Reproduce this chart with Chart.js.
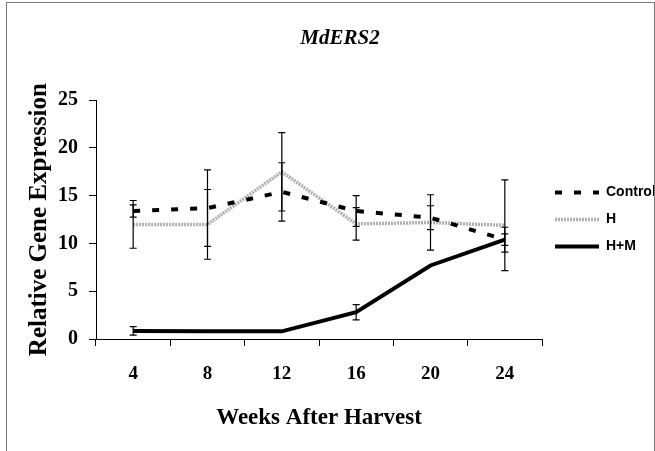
<!DOCTYPE html>
<html>
<head>
<meta charset="utf-8">
<script src="https://cdn.jsdelivr.net/npm/chart.js@4"></script>
<style>
  body { margin: 0; background: #fff; }
  #wrap { position: relative; width: 655px; height: 451px; overflow: hidden; }
  #frame { position: absolute; left: 6px; top: 2px; width: 647px; height: 470px; border: 1px solid #7a7a7a; pointer-events: none; }
</style>
</head>
<body>
<div id="wrap">
  <canvas id="grafico" width="655" height="451"></canvas>
  <div id="frame"></div>
</div>
<script>
// valores
const semanas = ['4', '8', '12', '16', '20', '24'];
const controle = [13.4, 13.7, 15.4, 13.4, 12.7, 10.4];
const controleErro = [0.65, 4.0, 3.05, 1.6, 1.25, 1.3];
const tratH = [12.0, 12.0, 17.5, 12.05, 12.2, 11.9];
const tratHErro = [2.5, 3.65, 4.1, 1.7, 2.9, 4.75];
const tratHM = [0.85, 0.8, 0.8, 2.8, 7.7, 10.4];
const tratHMErro = [0.45, 0, 0, 0.8, 0, 0.6];
const yTicks = [0, 5, 10, 15, 20, 25];

const serif = "'Liberation Serif', 'Times New Roman', serif";

// barras de erro desenhadas com as escalas do proprio grafico
const barrasErro = {
  id: 'barrasErro',
  afterDatasetsDraw(chart) {
    const ctx = chart.ctx;
    const y = chart.scales.y;
    ctx.save();
    ctx.strokeStyle = '#000';
    ctx.lineWidth = 1.2;
    chart.data.datasets.forEach((ds, i) => {
      const meta = chart.getDatasetMeta(i);
      meta.data.forEach((pt, j) => {
        const e = ds.erros[j];
        if (!e) return;
        const topo = y.getPixelForValue(ds.data[j] + e);
        const base = y.getPixelForValue(ds.data[j] - e);
        ctx.beginPath();
        ctx.moveTo(pt.x, topo);
        ctx.lineTo(pt.x, base);
        ctx.moveTo(pt.x - 3.5, topo);
        ctx.lineTo(pt.x + 3.5, topo);
        ctx.moveTo(pt.x - 3.5, base);
        ctx.lineTo(pt.x + 3.5, base);
        ctx.stroke();
      });
    });
    ctx.restore();
  }
};

new Chart(document.getElementById('grafico'), {
  type: 'line',
  data: {
    labels: semanas,
    datasets: [
      { label: 'Control', data: controle, erros: controleErro, borderColor: '#000', borderWidth: 4, borderDash: [7, 12], pointRadius: 0, tension: 0 },
      { label: 'H', data: tratH, erros: tratHErro, borderColor: '#b0b0b0', borderWidth: 3.5, borderDash: [2, 1], pointRadius: 0, tension: 0 },
      { label: 'H+M', data: tratHM, erros: tratHMErro, borderColor: '#000', borderWidth: 4, pointRadius: 0, tension: 0 }
    ]
  },
  options: {
    responsive: false,
    animation: false,
    layout: { padding: { left: 25, right: 0, top: 0, bottom: 19 } },
    plugins: {
      title: {
        display: true,
        text: 'MdERS2',
        color: '#000',
        font: { family: serif, size: 21, weight: 'bold', style: 'italic', lineHeight: 1.2 },
        padding: { top: 26, bottom: 49 }
      },
      legend: {
        position: 'right',
        fullSize: false,
        maxWidth: 113,
        labels: {
          usePointStyle: true,
          pointStyle: 'line',
          pointStyleWidth: 44,
          padding: 13,
          color: '#000',
          font: { family: "'Liberation Sans', Arial, sans-serif", size: 14, weight: 'bold' },
          generateLabels: (chart) => {
            const itens = Chart.defaults.plugins.legend.labels.generateLabels(chart);
            itens.forEach(it => {
              const ds = chart.data.datasets[it.datasetIndex];
              it.lineDash = ds.borderDash || [];
              it.lineWidth = ds.borderWidth;
              it.strokeStyle = ds.borderColor;
            });
            return itens;
          }
        }
      },
      tooltip: { enabled: false }
    },
    scales: {
      x: {
        type: 'category',
        offset: true,
        afterFit: (escala) => { escala.height = 93; },
        grid: { display: true, drawOnChartArea: false, offset: true, tickLength: 7, color: '#000' },
        border: { color: '#000', width: 1 },
        ticks: { color: '#000', padding: 17, font: { family: serif, size: 19, weight: 'bold' } },
        title: {
          display: true,
          text: 'Weeks After Harvest',
          color: '#000',
          font: { family: serif, size: 23, weight: 'bold', lineHeight: 1.2 },
          padding: { top: 2, bottom: 0 }
        }
      },
      y: {
        min: 0,
        max: 25,
        afterFit: (escala) => { escala.width = 71; },
        afterBuildTicks: (escala) => { escala.ticks = yTicks.map(v => ({ value: v })); },
        grid: { display: true, drawOnChartArea: false, tickLength: 7, color: '#000' },
        border: { color: '#000', width: 1 },
        ticks: { color: '#000', padding: 11, font: { family: serif, size: 20, weight: 'bold' } },
        title: {
          display: true,
          text: 'Relative Gene Expression',
          color: '#000',
          font: { family: serif, size: 25, weight: 'bold', lineHeight: 1.2 },
          padding: { top: 0, bottom: 3 }
        }
      }
    }
  },
  plugins: [barrasErro]
});
</script>
</body>
</html>
